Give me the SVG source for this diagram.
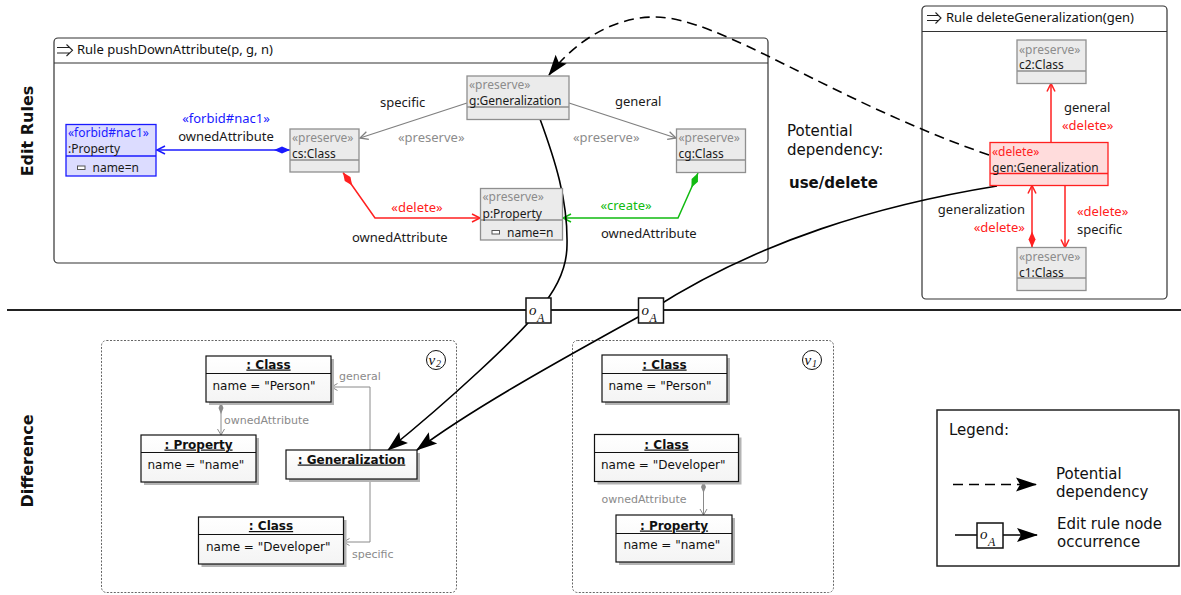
<svg xmlns="http://www.w3.org/2000/svg" width="1181" height="595" viewBox="0 0 1181 595">
  <style>
    .frame { fill: #ffffff; stroke: #333333; stroke-width: 1.2; }
    .rt { font-family: "Noto Sans", "Open Sans", sans-serif; font-size: 12px; fill: #1a1a1a; }
    .el { font-family: "Noto Sans", "Open Sans", sans-serif; font-size: 13px; fill: #1a1a1a; }
    .title { font-family: "Noto Sans", "Open Sans", sans-serif; font-size: 13px; fill: #111111; }
    .gray { fill: #8c8c8c; }
    .red { fill: #ff2020; }
    .blue { fill: #1a1aff; }
    .green { fill: #11bb11; }
    .pres { fill: #ebebeb; stroke: #8f8f8f; stroke-width: 1.3; }
    .del { fill: #ffdcdc; stroke: #ff2020; stroke-width: 1.3; }
    .forb { fill: #dcdcff; stroke: #1a1aff; stroke-width: 1.3; }
    .icon { fill: #ffffff; stroke: #555555; stroke-width: 1; }
    .dt { font-family: "DejaVu Sans", sans-serif; font-size: 12px; fill: #111111; }
    .dh { font-family: "DejaVu Sans", sans-serif; font-size: 12px; font-weight: bold; fill: #111111; text-decoration: underline; }
    .dl { font-family: "DejaVu Sans", sans-serif; font-size: 11px; fill: #8a8a8a; }
    .obj { fill: url(#objfill); stroke: #111111; stroke-width: 1.2; }
    .shadow { fill: #b4b4b4; }
    .version { fill: none; stroke: #666666; stroke-width: 1; stroke-dasharray: 2 1.5; }
    .lg { font-family: "DejaVu Sans", sans-serif; font-size: 15px; fill: #111111; }
    .side { font-family: "DejaVu Sans", sans-serif; font-size: 16px; font-weight: bold; fill: #111111; }
    .math { font-family: "Liberation Serif", "DejaVu Serif", serif; font-style: italic; fill: #111111; }
    .occ { fill: #ffffff; stroke: #111111; stroke-width: 1.5; }
  </style>
  <defs>
    <linearGradient id="objfill" x1="0" y1="0" x2="0" y2="1">
      <stop offset="0" stop-color="#ffffff"/>
      <stop offset="1" stop-color="#f4f4f4"/>
    </linearGradient>
    <marker id="bigArrow" markerUnits="userSpaceOnUse" markerWidth="22" markerHeight="16" refX="20" refY="7" orient="auto" overflow="visible">
      <path d="M0,0 L21,7 L0,14 L4,7 z" fill="#000000"/>
    </marker>
    <marker id="dmBlue" markerUnits="userSpaceOnUse" markerWidth="18" markerHeight="10" refX="0" refY="4" orient="auto" overflow="visible">
      <path d="M0,4 L8,0.5 L16,4 L8,7.5 z" fill="#1a1aff"/>
    </marker>
    <marker id="dmRed" markerUnits="userSpaceOnUse" markerWidth="18" markerHeight="10" refX="0" refY="4" orient="auto" overflow="visible">
      <path d="M0,4 L8,0.5 L16,4 L8,7.5 z" fill="#ff2020"/>
    </marker>
    <marker id="dmGreen" markerUnits="userSpaceOnUse" markerWidth="18" markerHeight="10" refX="0" refY="4" orient="auto" overflow="visible">
      <path d="M0,4 L8,0.5 L16,4 L8,7.5 z" fill="#11bb11"/>
    </marker>
    <marker id="dmGray" markerUnits="userSpaceOnUse" markerWidth="14" markerHeight="8" refX="0" refY="3" orient="auto" overflow="visible">
      <path d="M0,3 L6,0.5 L12,3 L6,5.5 z" fill="#8a8a8a"/>
    </marker>
    <marker id="opBlue" markerUnits="userSpaceOnUse" markerWidth="10" markerHeight="10" refX="8" refY="4.5" orient="auto" overflow="visible">
      <path d="M0,0.5 L8,4.5 L0,8.5" fill="none" stroke="#1a1aff" stroke-width="1.5"/>
    </marker>
    <marker id="opRed" markerUnits="userSpaceOnUse" markerWidth="10" markerHeight="10" refX="8" refY="4.5" orient="auto" overflow="visible">
      <path d="M0,0.5 L8,4.5 L0,8.5" fill="none" stroke="#ff2020" stroke-width="1.5"/>
    </marker>
    <marker id="opGreen" markerUnits="userSpaceOnUse" markerWidth="10" markerHeight="10" refX="8" refY="4.5" orient="auto" overflow="visible">
      <path d="M0,0.5 L8,4.5 L0,8.5" fill="none" stroke="#11bb11" stroke-width="1.5"/>
    </marker>
    <marker id="opGray" markerUnits="userSpaceOnUse" markerWidth="10" markerHeight="10" refX="8" refY="4.5" orient="auto" overflow="visible">
      <path d="M0,0.5 L8,4.5 L0,8.5" fill="none" stroke="#808080" stroke-width="1.3"/>
    </marker>
    <marker id="opSmall" markerUnits="userSpaceOnUse" markerWidth="8" markerHeight="8" refX="6" refY="3.5" orient="auto" overflow="visible">
      <path d="M0,0 L6,3.5 L0,7" fill="none" stroke="#8a8a8a" stroke-width="1"/>
    </marker>
  </defs>

  <rect width="1181" height="595" fill="#ffffff"/>

  <!-- side headings and section separator -->
  <text class="side" transform="translate(33,131) rotate(-90)" text-anchor="middle">Edit Rules</text>
  <text class="side" transform="translate(33,461) rotate(-90)" text-anchor="middle">Difference</text>
  <line x1="7" y1="310" x2="1181" y2="310" stroke="#222222" stroke-width="2"/>

  <!-- rule frames -->
  <g id="rule-pushDownAttribute">
    <rect class="frame" x="54" y="38" width="714" height="225" rx="4"/>
    <line x1="54" y1="63" x2="768" y2="63" stroke="#333333" stroke-width="1.2"/>
    <path d="M57,47.5 H70 M57,53 H70 M66.5,44.5 L72.5,50.3 L66.5,56" fill="none" stroke="#222222" stroke-width="1.1"/>
    <text class="title" x="77" y="54">Rule pushDownAttribute(p, g, n)</text>
  </g>
  <g id="rule-deleteGeneralization">
    <rect class="frame" x="922" y="6" width="245" height="293" rx="4"/>
    <line x1="922" y1="31.5" x2="1167" y2="31.5" stroke="#333333" stroke-width="1.2"/>
    <path d="M927,15.5 H939 M927,20.5 H939 M935.5,12.5 L941,18 L935.5,23.5" fill="none" stroke="#222222" stroke-width="1.1"/>
    <text class="title" x="946" y="22">Rule deleteGeneralization(gen)</text>
  </g>

  <!-- version frames -->
  <g id="version-v2">
    <rect class="version" x="101.5" y="340.5" width="355" height="252" rx="5"/>
    <circle cx="436" cy="360" r="9.5" fill="#ffffff" stroke="#111111" stroke-width="1"/>
    <text class="math" x="428.5" y="364.5" font-size="15">v</text>
    <text class="math" x="436" y="367" font-size="10" font-style="normal">2</text>
  </g>
  <g id="version-v1">
    <rect class="version" x="572.5" y="340.5" width="261" height="252" rx="5"/>
    <circle cx="812" cy="360" r="9.5" fill="#ffffff" stroke="#111111" stroke-width="1"/>
    <text class="math" x="804.5" y="364.5" font-size="15">v</text>
    <text class="math" x="812" y="367" font-size="10" font-style="normal">1</text>
  </g>

  <!-- connectors -->
  <g id="connectors" fill="none">
    <!-- pushDownAttribute -->
    <path d="M290,150 L157,150" stroke="#1a1aff" stroke-width="1.5" marker-start="url(#dmBlue)" marker-end="url(#opBlue)"/>
    <path d="M343,172.5 L375,218 L480,218" stroke="#ff2020" stroke-width="1.5" marker-start="url(#dmRed)" marker-end="url(#opRed)"/>
    <path d="M698,173 L678,218 L563,218" stroke="#11bb11" stroke-width="1.5" marker-start="url(#dmGreen)" marker-end="url(#opGreen)"/>
    <path d="M467,103 L360,138" stroke="#808080" stroke-width="1.3" marker-end="url(#opGray)"/>
    <path d="M569,103 L676,138" stroke="#808080" stroke-width="1.3" marker-end="url(#opGray)"/>
    <!-- deleteGeneralization -->
    <path d="M1051,142.5 L1051,83.5" stroke="#ff2020" stroke-width="1.5" marker-end="url(#opRed)"/>
    <path d="M1032,247.5 L1032,185.5" stroke="#ff2020" stroke-width="1.5" marker-start="url(#dmRed)" marker-end="url(#opRed)"/>
    <path d="M1065,185.5 L1065,247.5" stroke="#ff2020" stroke-width="1.5" marker-end="url(#opRed)"/>
    <!-- potential dependency -->
    <path d="M989,155 C830,100 720,17 655,17 C610,17 572,45 549,75" stroke="#000000" stroke-width="1.6" stroke-dasharray="10 6" marker-end="url(#bigArrow)"/>
    <!-- node occurrences -->
    <path d="M540,119 C555,160 568,200 567,245 C567,272 552,295 538,311 C520,335 450,400 388,450" stroke="#000000" stroke-width="1.6" marker-end="url(#bigArrow)"/>
    <path d="M997,186 C880,205 760,240 651,310 C560,360 470,410 417,450" stroke="#000000" stroke-width="1.6" marker-end="url(#bigArrow)"/>
    <!-- version v2 -->
    <path d="M221,402 L221,435" stroke="#8a8a8a" stroke-width="1" marker-start="url(#dmGray)" marker-end="url(#opSmall)"/>
    <path d="M370,450 L370,387 L331.5,387" stroke="#8a8a8a" stroke-width="1" marker-end="url(#opSmall)"/>
    <path d="M370,479 L370,542 L343.5,542" stroke="#8a8a8a" stroke-width="1" marker-end="url(#opSmall)"/>
    <!-- version v1 -->
    <path d="M703.5,481 L703.5,515" stroke="#8a8a8a" stroke-width="1" marker-start="url(#dmGray)" marker-end="url(#opSmall)"/>
    <!-- legend samples -->
    <path d="M953,484.5 L1036,484.5" stroke="#000000" stroke-width="1.6" stroke-dasharray="10 6" marker-end="url(#bigArrow)"/>
    <path d="M955,535 L1037,535" stroke="#000000" stroke-width="1.6" marker-end="url(#bigArrow)"/>
  </g>

  <!-- connector labels -->
  <g id="edge-labels">
    <text class="el blue" x="226" y="123" text-anchor="middle">«forbid#nac1»</text>
    <text class="el" x="226" y="141" text-anchor="middle">ownedAttribute</text>
    <text class="el" x="380" y="107">specific</text>
    <text class="el gray" x="398" y="142">«preserve»</text>
    <text class="el" x="615" y="106">general</text>
    <text class="el gray" x="573" y="142">«preserve»</text>
    <text class="el red" x="417" y="212" text-anchor="middle">«delete»</text>
    <text class="el" x="352" y="242">ownedAttribute</text>
    <text class="el green" x="626" y="209.5" text-anchor="middle">«create»</text>
    <text class="el" x="601" y="237.5">ownedAttribute</text>
    <text class="el" x="1064" y="112">general</text>
    <text class="el red" x="1062" y="129.5">«delete»</text>
    <text class="el" x="1025" y="213.5" text-anchor="end">generalization</text>
    <text class="el red" x="1025" y="232" text-anchor="end">«delete»</text>
    <text class="el red" x="1077" y="216">«delete»</text>
    <text class="el" x="1077" y="233.5">specific</text>
    <text class="dl" x="224" y="423.5">ownedAttribute</text>
    <text class="dl" x="339" y="380">general</text>
    <text class="dl" x="352" y="558">specific</text>
    <text class="dl" x="601.5" y="502.5">ownedAttribute</text>
  </g>

  <g id="dependency-note">
    <text class="lg" x="787" y="136" font-size="16">Potential</text>
    <text class="lg" x="787" y="155" font-size="16">dependency:</text>
    <text class="lg" x="789" y="187.5" font-size="16" font-weight="bold">use/delete</text>
  </g>

  <!-- pushDownAttribute nodes -->
  <g id="node-nac-property">
    <rect class="forb" x="66" y="124.5" width="90" height="51.5"/>
    <line x1="66" y1="156" x2="156" y2="156" stroke="#1a1aff" stroke-width="1.3"/>
    <text class="rt blue" x="68" y="137">«forbid#nac1»</text>
    <text class="rt" x="68" y="153">:Property</text>
    <rect class="icon" x="77.5" y="166" width="7.5" height="3.5"/>
    <text class="rt" x="92.5" y="172">name=n</text>
  </g>
  <g id="node-cs">
    <rect class="pres" x="290" y="129" width="69" height="43"/>
    <line x1="290" y1="160" x2="359" y2="160" stroke="#8f8f8f" stroke-width="1.3"/>
    <text class="rt gray" x="292" y="142">«preserve»</text>
    <text class="rt" x="292" y="158">cs:Class</text>
  </g>
  <g id="node-g">
    <rect class="pres" x="467" y="76" width="102" height="43.5"/>
    <line x1="467" y1="107" x2="569" y2="107" stroke="#8f8f8f" stroke-width="1.3"/>
    <text class="rt gray" x="469" y="88.5">«preserve»</text>
    <text class="rt" x="469" y="104.5">g:Generalization</text>
  </g>
  <g id="node-cg">
    <rect class="pres" x="676.5" y="129" width="69" height="43.5"/>
    <line x1="676.5" y1="160" x2="745.5" y2="160" stroke="#8f8f8f" stroke-width="1.3"/>
    <text class="rt gray" x="678.5" y="142">«preserve»</text>
    <text class="rt" x="678.5" y="157.5">cg:Class</text>
  </g>
  <g id="node-p">
    <rect class="pres" x="480.5" y="188.5" width="82" height="51.5"/>
    <line x1="480.5" y1="220" x2="562.5" y2="220" stroke="#8f8f8f" stroke-width="1.3"/>
    <text class="rt gray" x="482.5" y="201">«preserve»</text>
    <text class="rt" x="482.5" y="217.5">p:Property</text>
    <rect class="icon" x="492" y="230.5" width="7.5" height="3.5"/>
    <text class="rt" x="507" y="236.5">name=n</text>
  </g>

  <!-- deleteGeneralization nodes -->
  <g id="node-c2">
    <rect class="pres" x="1017" y="40" width="69" height="43.5"/>
    <line x1="1017" y1="71" x2="1086" y2="71" stroke="#8f8f8f" stroke-width="1.3"/>
    <text class="rt gray" x="1019" y="53.5">«preserve»</text>
    <text class="rt" x="1019" y="69">c2:Class</text>
  </g>
  <g id="node-gen">
    <rect class="del" x="990" y="142.5" width="118" height="43"/>
    <line x1="990" y1="173.5" x2="1108" y2="173.5" stroke="#ff2020" stroke-width="1.3"/>
    <text class="rt red" x="992" y="156">«delete»</text>
    <text class="rt" x="992" y="171.5">gen:Generalization</text>
  </g>
  <g id="node-c1">
    <rect class="pres" x="1017" y="247.5" width="69" height="43"/>
    <line x1="1017" y1="278" x2="1086" y2="278" stroke="#8f8f8f" stroke-width="1.3"/>
    <text class="rt gray" x="1019" y="261">«preserve»</text>
    <text class="rt" x="1019" y="276.5">c1:Class</text>
  </g>

  <!-- node occurrence markers -->
  <g id="occ-1">
    <rect class="occ" x="526" y="298" width="25" height="25"/>
    <text class="math" x="529" y="314.5" font-size="15">o</text>
    <text class="math" x="537" y="321.5" font-size="12">A</text>
  </g>
  <g id="occ-2">
    <rect class="occ" x="638.5" y="298" width="25" height="25"/>
    <text class="math" x="641.5" y="314.5" font-size="15">o</text>
    <text class="math" x="649.5" y="321.5" font-size="12">A</text>
  </g>

  <!-- version v2 objects -->
  <g id="v2-person">
    <rect class="shadow" x="209" y="359" width="125" height="46"/>
    <rect class="obj" x="206" y="356" width="125" height="46"/>
    <line x1="206" y1="373.5" x2="331" y2="373.5" stroke="#111111" stroke-width="1.2"/>
    <text class="dh" x="268.5" y="368.5" text-anchor="middle">: Class</text>
    <text class="dt" x="212.5" y="390">name = "Person"</text>
  </g>
  <g id="v2-property">
    <rect class="shadow" x="144" y="438" width="115" height="47"/>
    <rect class="obj" x="141" y="435" width="115" height="47"/>
    <line x1="141" y1="452.5" x2="256" y2="452.5" stroke="#111111" stroke-width="1.2"/>
    <text class="dh" x="198.5" y="448.5" text-anchor="middle">: Property</text>
    <text class="dt" x="147.5" y="468.5">name = "name"</text>
  </g>
  <g id="v2-generalization">
    <rect class="shadow" x="289" y="453" width="131" height="29"/>
    <rect class="obj" x="286" y="450" width="131" height="29"/>
    <text class="dh" x="351.5" y="463.5" text-anchor="middle">: Generalization</text>
  </g>
  <g id="v2-developer">
    <rect class="shadow" x="201.5" y="520" width="145" height="47"/>
    <rect class="obj" x="198.5" y="517" width="145" height="47"/>
    <line x1="198.5" y1="534.5" x2="343.5" y2="534.5" stroke="#111111" stroke-width="1.2"/>
    <text class="dh" x="271" y="530" text-anchor="middle">: Class</text>
    <text class="dt" x="206" y="551">name = "Developer"</text>
  </g>

  <!-- version v1 objects -->
  <g id="v1-person">
    <rect class="shadow" x="605" y="358" width="125" height="47"/>
    <rect class="obj" x="602" y="355" width="125" height="47"/>
    <line x1="602" y1="373.5" x2="727" y2="373.5" stroke="#111111" stroke-width="1.2"/>
    <text class="dh" x="664.5" y="368.5" text-anchor="middle">: Class</text>
    <text class="dt" x="608.5" y="390">name = "Person"</text>
  </g>
  <g id="v1-developer">
    <rect class="shadow" x="597.5" y="437.5" width="144" height="47"/>
    <rect class="obj" x="594.5" y="434.5" width="144" height="47"/>
    <line x1="594.5" y1="452.5" x2="738.5" y2="452.5" stroke="#111111" stroke-width="1.2"/>
    <text class="dh" x="666.5" y="448.5" text-anchor="middle">: Class</text>
    <text class="dt" x="601" y="468.5">name = "Developer"</text>
  </g>
  <g id="v1-property">
    <rect class="shadow" x="619" y="518" width="116" height="47"/>
    <rect class="obj" x="616" y="515" width="116" height="47"/>
    <line x1="616" y1="533.5" x2="732" y2="533.5" stroke="#111111" stroke-width="1.2"/>
    <text class="dh" x="674" y="529.5" text-anchor="middle">: Property</text>
    <text class="dt" x="623.5" y="548.5">name = "name"</text>
  </g>

  <!-- legend -->
  <g id="legend">
    <rect x="937" y="410" width="242" height="156" fill="none" stroke="#222222" stroke-width="1.5"/>
    <text class="lg" x="949" y="434.5">Legend:</text>
    <text class="lg" x="1056" y="478.5">Potential</text>
    <text class="lg" x="1056" y="497">dependency</text>
    <rect class="occ" x="977" y="523" width="26" height="25"/>
    <text class="math" x="980" y="539" font-size="15">o</text>
    <text class="math" x="988" y="546" font-size="12">A</text>
    <text class="lg" x="1057" y="528.5">Edit rule node</text>
    <text class="lg" x="1057" y="547">occurrence</text>
  </g>
</svg>
